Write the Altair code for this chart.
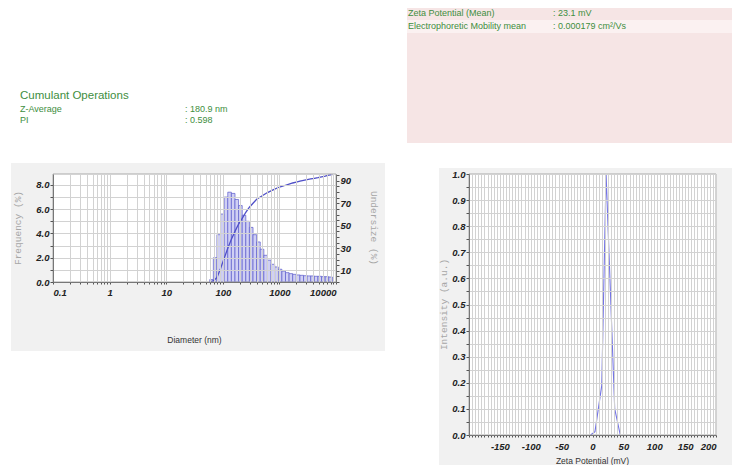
import altair as alt
import pandas as pd

# ---------------- data ----------------
# size distribution bins (nm) and frequency (%)
bin_edges = [58.77, 68.06, 78.82, 91.28, 105.7, 122.4, 141.8, 164.2, 190.1, 220.2,
             255.0, 295.3, 342.0, 396.1, 458.7, 531.2, 615.1, 712.4, 825.0, 955.4,
             1106, 1281, 1484, 1718, 1990, 2305, 2669, 3091, 3580, 4145,
             4801, 5560, 6439, 7456, 8635]
frequency = [0.2, 2.0, 3.9, 5.6, 7.0, 7.4, 7.3, 6.8, 6.3, 5.5,
             5.0, 4.5, 3.9, 3.3, 2.7, 2.2, 1.8, 1.46, 1.24, 1.05,
             0.9, 0.77, 0.69, 0.63, 0.58, 0.55, 0.52, 0.5, 0.5, 0.47,
             0.47, 0.44, 0.44, 0.41]
# undersize curve (%), read at the bin edges
undersize = [0, 1, 4, 12, 21, 30, 38, 45, 51.5, 56.5,
             62, 66.5, 70, 73.5, 75.5, 77.5, 79.5, 81, 82.5, 84,
             85, 86, 87, 88, 88.8, 89.6, 90.3, 91, 91.6, 92.2,
             92.8, 93.5, 94.2, 95, 95.5]
# zeta potential distribution
zeta_mv = [-3, 4, 15, 22, 36, 45]
zeta_intensity = [0.0, 0.013, 0.19, 1.0, 0.1, 0.0]

cumulant_title = "Cumulant Operations"
cumulant_labels = ["Z-Average", "PI"]
cumulant_values = [": 180.9 nm", ": 0.598"]
zeta_labels = ["Zeta Potential (Mean)", "Electrophoretic Mobility mean"]
zeta_values = [": 23.1 mV", ": 0.000179 cm\u00b2/Vs"]

# ---------------- styling ----------------
W1, H1 = 283, 108
W2, H2 = 247, 261
FONT = "Liberation Sans, Arial, sans-serif"
MONO = "Liberation Mono, DejaVu Sans Mono, monospace"
GREEN = "#3e8e3e"
PANEL = "#f1f1f1"
GRID = "#d2d2d2"

one = pd.DataFrame({"k": [0]})


def box(x1, x2, y1, y2, color, stroke=None):
    kw = dict(fill=color, strokeWidth=0)
    if stroke:
        kw = dict(fillOpacity=0, stroke=stroke, strokeWidth=1)
    return alt.Chart(one).mark_rect(**kw).encode(
        x=alt.value(x1), x2=alt.value(x2), y=alt.value(y1), y2=alt.value(y2))


def label(txt, x, y, size=10, color="#333", font=FONT, angle=0, align="left", weight="normal"):
    return alt.Chart(one).mark_text(
        text=txt, fontSize=size, color=color, font=font, angle=angle, align=align,
        baseline="middle", fontWeight=weight).encode(x=alt.value(x), y=alt.value(y))


axis_common = dict(labelFont=FONT, labelFontSize=9.5, labelFontStyle="italic",
                   labelFontWeight="bold", labelColor="#222", tickColor="#555",
                   domainColor="#777", title=None, labelOverlap=False, zindex=1,
                   gridColor=GRID, gridWidth=1)

# ---------------- left: size distribution ----------------
log_ticks = [m * 10.0 ** e for e in range(-1, 4) for m in range(1, 10)] + [10000.0]
x_log = alt.X("lo:Q", scale=alt.Scale(type="log", domain=[0.1, 10000], nice=False),
              axis=alt.Axis(values=log_ticks, grid=True, tickSize=2, labelPadding=3,
                            labelExpr="abs(log(datum.value)/LN10 - round(log(datum.value)/LN10)) < 0.001 ? (datum.value < 1 ? '0.1' : format(datum.value, 'd')) : ''",
                            **axis_common))

bars_df = pd.DataFrame({"lo": bin_edges[:-1], "hi": bin_edges[1:], "freq": frequency})
cum_df = pd.DataFrame({"lo": bin_edges, "und": undersize})

bars = alt.Chart(bars_df).mark_rect(fill="#d0d0f4", stroke="#5a5acc", strokeWidth=0.7).encode(
    x=x_log, x2="hi:Q",
    y=alt.Y("freq:Q", scale=alt.Scale(domain=[0, 8.9], nice=False),
            axis=alt.Axis(orient="left", values=list(range(0, 9)), grid=True, tickSize=3,
                          labelPadding=1,
                          labelExpr="datum.value % 2 == 0 ? format(datum.value, '.1f') : ''",
                          **axis_common)),
    y2=alt.datum(0))

curve = alt.Chart(cum_df).mark_line(color="#5050c8", strokeWidth=1.3).encode(
    x=x_log,
    y=alt.Y("und:Q", scale=alt.Scale(domain=[0, 96], nice=False),
            axis=alt.Axis(orient="right", values=list(range(0, 96, 5)), grid=False, tickSize=3,
                          labelPadding=1,
                          labelExpr="datum.value % 20 == 10 ? datum.label : ''",
                          **axis_common)))

left_layers = [
    box(0, 1, -166, -165, "white"),
    box(-42, 332, -11, 177, PANEL),
    box(0, W1, 0, H1, "white"),
    bars,
    curve,
    box(0, W1, 0, H1, None, stroke="#a8a8a8"),
    label(cumulant_title, -33, -78, size=11.5, color=GREEN),
]
for i, (a, b) in enumerate(zip(cumulant_labels, cumulant_values)):
    left_layers.append(label(a, -33, -65 + 11 * i, size=9, color=GREEN))
    left_layers.append(label(b, 132, -65 + 11 * i, size=9, color=GREEN))
left_layers += [
    label("Frequency (%)", -35, H1 / 2, size=9.5, color="#a6a6a6", font=MONO, angle=270, align="center"),
    label("Undersize (%)", 321, H1 / 2, size=9.5, color="#a6a6a6", font=MONO, angle=90, align="center"),
    label("Diameter (nm)", W1 / 2, 166, size=8.5, color="#333", align="center"),
]
left = alt.layer(*left_layers).properties(width=W1, height=H1).resolve_scale(y="independent")

# ---------------- right: zeta potential ----------------
zeta_df = pd.DataFrame({"mv": zeta_mv, "inten": zeta_intensity})
zeta_line = alt.Chart(zeta_df).mark_line(color="#7474e6", strokeWidth=1.1).encode(
    x=alt.X("mv:Q", scale=alt.Scale(domain=[-200, 200], nice=False),
            axis=alt.Axis(values=list(range(-200, 201, 5)), grid=True, tickSize=2, labelPadding=4,
                          labelExpr="datum.value % 50 == 0 && datum.value > -200 ? toString(datum.value) : ''",
                          **axis_common)),
    y=alt.Y("inten:Q", scale=alt.Scale(domain=[0, 1.0], nice=False),
            axis=alt.Axis(values=[round(0.05 * i, 2) for i in range(21)], grid=True, tickSize=3,
                          labelPadding=1,
                          labelExpr="round(datum.value*100) % 10 == 0 ? format(datum.value, '.1f') : ''",
                          **axis_common)))

right_layers = [
    box(-62, 263, -166, -31, "#f6e5e5"),
    box(-62, 263, -154, -141, "#fbf1f1"),
]
for i, (a, b) in enumerate(zip(zeta_labels, zeta_values)):
    right_layers.append(label(a, -61, -161 + 13 * i, size=9, color=GREEN))
    right_layers.append(label(b, 84, -161 + 13 * i, size=9, color=GREEN))
right_layers += [
    box(-30, 263, -6, 296, PANEL),
    box(0, W2, 0, H2, "white"),
    zeta_line,
    box(0, W2, 0, H2, None, stroke="#a8a8a8"),
    label("Intensity (a.u.)", -25, H2 / 2, size=9.5, color="#a6a6a6", font=MONO, angle=270, align="center"),
    label("Zeta Potential (mV)", W2 / 2, 287, size=8.5, color="#333", align="center"),
]
right = alt.layer(*right_layers).properties(width=W2, height=H2)

chart = alt.hconcat(left, right, spacing=22).properties(
    padding={"left": 3, "top": 0, "right": 0, "bottom": 0}
).configure_view(stroke=None)

chart.save("out.html", embed_options={"renderer": "svg", "actions": False})
